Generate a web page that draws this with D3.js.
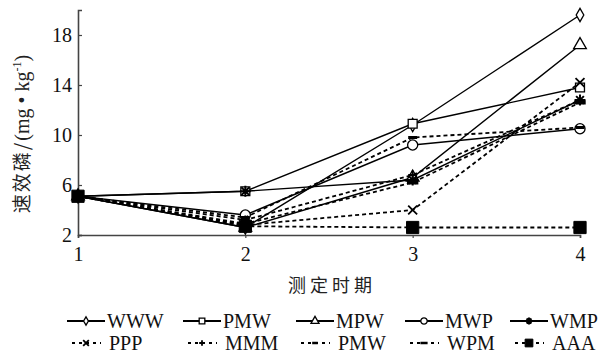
<!DOCTYPE html>
<html>
<head>
<meta charset="utf-8">
<script src="https://cdn.jsdelivr.net/npm/d3@7"></script>
<style>
  body { margin: 0; background: #fff; }
  svg { display: block; }
  .tick text { font-family: "Liberation Serif", "Times New Roman", Times, serif; font-size: 20px; fill: #111; }
</style>
</head>
<body>
<svg id="chart" width="605" height="356"></svg>
<script>
// measurement periods and the tick labels on y
var periods = [1, 2, 3, 4];
var yTicks = [2, 6, 10, 14, 18];

// series names (legend order)
var names = ["WWW", "PMW", "MPW", "MWP", "WMP", "PPP", "MMM", "PMW", "WPM", "AAA"];

// available P, mg/kg
var www  = [5.1, 2.6, 10.8, 19.6];
var pmw  = [5.1, 5.5, 10.9, 13.8];
var mpw  = [5.1, 2.6, 6.6, 17.2];
var mwp  = [5.1, 3.6, 9.2, 10.5];
var wmp  = [5.1, 5.5, 6.4, 12.8];
var ppp  = [5.1, 2.8, 4.0, 14.2];
var mmm  = [5.1, 3.2, 6.8, 12.8];
var pmw2 = [5.1, 3.4, 9.8, 10.6];
var wpm  = [5.1, 2.9, 6.2, 12.6];
var aaa  = [5.1, 2.7, 2.6, 2.6];

var values = [www, pmw, mpw, mwp, wmp, ppp, mmm, pmw2, wpm, aaa];

var serif = "'Liberation Serif', 'Times New Roman', Times, serif";
var cjk = "'Noto Sans CJK SC', sans-serif";

// custom marker shapes
var symX = { draw: function(c, s) { var r = Math.sqrt(s) / 2; c.moveTo(-r, -r); c.lineTo(r, r); c.moveTo(r, -r); c.lineTo(-r, r); } };
var symPlus = { draw: function(c, s) { var r = Math.sqrt(s) / 2; c.moveTo(-r, 0); c.lineTo(r, 0); c.moveTo(0, -r); c.lineTo(0, r); } };
var symStar = { draw: function(c, s) {
  var r = Math.sqrt(s) / 2;
  for (var i = 0; i < 4; i++) {
    var a = i * Math.PI / 4;
    c.moveTo(-r * Math.cos(a), -r * Math.sin(a));
    c.lineTo(r * Math.cos(a), r * Math.sin(a));
  }
} };
var symBar = { draw: function(c, s) { var r = Math.sqrt(s) / 2; c.moveTo(-r, 0); c.lineTo(r, 0); } };

// line / marker style per series
var styles = [
  { dash: null, sym: d3.symbolDiamond, size: 50, fill: "#fff", stroke: 1.3 },
  { dash: null, sym: d3.symbolSquare, size: 80, fill: "#fff", stroke: 1.3 },
  { dash: null, sym: d3.symbolTriangle, size: 70, fill: "#fff", stroke: 1.3 },
  { dash: null, sym: d3.symbolCircle, size: 80, fill: "#fff", stroke: 1.3 },
  { dash: null, sym: symStar, size: 120, fill: "none", stroke: 2 },
  { dash: "4,3", sym: symX, size: 80, fill: "none", stroke: 1.8 },
  { dash: "4,3", sym: symPlus, size: 80, fill: "none", stroke: 1.8 },
  { dash: "4,3", sym: symBar, size: 80, fill: "none", stroke: 3 },
  { dash: "4,3", sym: symBar, size: 130, fill: "none", stroke: 4 },
  { dash: "4,3", sym: d3.symbolSquare, size: 150, fill: "#000", stroke: 1 }
];

var svg = d3.select("#chart");

var x = d3.scaleLinear().domain([1, 4]).range([78, 580]);
var y = d3.scaleLinear().domain([2, 20]).range([235, 10]);

// axes
var yAxis = svg.append("g")
  .attr("transform", "translate(78,0)")
  .call(d3.axisLeft(y).tickValues(yTicks).tickSize(-4).tickPadding(6).tickFormat(d3.format("d")));
var xAxis = svg.append("g")
  .attr("transform", "translate(0,235)")
  .call(d3.axisBottom(x).tickValues(periods).tickSize(3).tickPadding(8).tickFormat(d3.format("d")));
[xAxis, yAxis].forEach(function(a) {
  a.attr("font-family", serif);
  a.select(".domain").attr("stroke", "#444").attr("stroke-width", 1.6);
  a.selectAll(".tick line").attr("stroke", "#444").attr("stroke-width", 1.2);
});
yAxis.selectAll(".tick text").attr("dy", "0.32em");
xAxis.selectAll(".tick text").attr("dy", "0.75em");

// lines
var line = d3.line().x(function(d, i) { return x(periods[i]); }).y(function(d) { return y(d); });

var series = svg.append("g").selectAll("g").data(values).enter().append("g");

series.append("path")
  .attr("d", line)
  .attr("fill", "none")
  .attr("stroke", "#000")
  .attr("stroke-width", function(d, i) { return styles[i].dash ? 1.8 : 1.4; })
  .attr("stroke-dasharray", function(d, i) { return styles[i].dash; });

series.each(function(vals, k) {
  var st = styles[k];
  d3.select(this).selectAll(".mk").data(vals).enter().append("path")
    .attr("class", "mk")
    .attr("transform", function(d, i) { return "translate(" + x(periods[i]) + "," + y(d) + ")"; })
    .attr("d", d3.symbol().type(st.sym).size(st.size))
    .attr("fill", st.fill)
    .attr("stroke", "#000")
    .attr("stroke-width", st.stroke);
});

// axis titles
svg.append("text")
  .attr("x", 332).attr("y", 292)
  .attr("text-anchor", "middle")
  .style("font-family", cjk)
  .style("font-size", "18px")
  .style("letter-spacing", "4px")
  .attr("fill", "#222")
  .text("测定时期");

var yt = svg.append("text")
  .attr("transform", "translate(29,134) rotate(-90)")
  .attr("text-anchor", "middle")
  .style("font-family", cjk)
  .style("font-size", "19px")
  .attr("fill", "#222");
yt.append("tspan").style("letter-spacing", "2px").text("速效磷/");
yt.append("tspan").style("font-family", serif).style("font-size", "20px").text("(mg • kg");
yt.append("tspan").attr("dy", -8).style("font-family", serif).style("font-size", "12px").text("-1");
yt.append("tspan").attr("dy", 8).style("font-family", serif).style("font-size", "20px").text(")");

// legend, 5 columns x 2 rows
var colX = [67, 183, 296, 405, 510];
var rowY = [321, 343];

var legend = svg.append("g").selectAll("g").data(names).enter().append("g")
  .attr("transform", function(d, i) { return "translate(" + colX[i % 5] + "," + rowY[Math.floor(i / 5)] + ")"; });

legend.append("line")
  .attr("x1", function(d, i) { return styles[i].dash ? 5 : 0; })
  .attr("x2", function(d, i) { return styles[i].dash ? 34 : 38; })
  .attr("stroke", "#000")
  .attr("stroke-width", function(d, i) { return styles[i].dash ? 1.8 : 2; })
  .attr("stroke-dasharray", function(d, i) { return styles[i].dash ? "3,4" : null; });

legend.append("path")
  .attr("transform", "translate(19,0)")
  .attr("d", function(d, i) { return d3.symbol().type(styles[i].sym).size(styles[i].size * 0.4)(); })
  .attr("fill", function(d, i) { return styles[i].fill; })
  .attr("stroke", "#000")
  .attr("stroke-width", function(d, i) { return Math.min(styles[i].stroke, 2.5); });

legend.append("text")
  .attr("x", function(d, i) { return i < 5 ? 40 : 42; })
  .attr("dy", "0.34em")
  .style("font-family", serif)
  .style("font-size", "20px")
  .attr("fill", "#111")
  .text(function(d) { return d; });
</script>
</body>
</html>
